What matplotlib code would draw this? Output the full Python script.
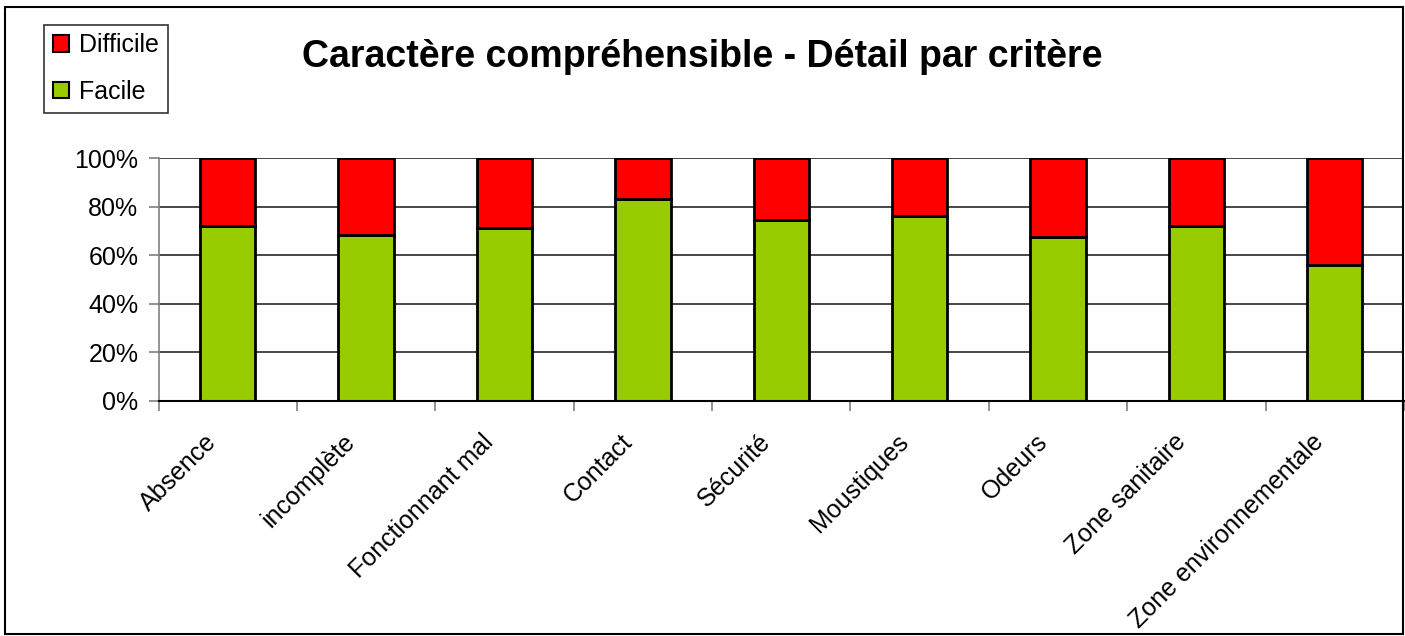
import matplotlib
matplotlib.use("Agg")
import matplotlib.pyplot as plt
from matplotlib.patches import Rectangle, Patch
from matplotlib.transforms import ScaledTranslation

plt.rcParams["font.family"] = ["Liberation Sans", "DejaVu Sans"]

criteres = ["Absence", "incomplète", "Fonctionnant mal", "Contact", "Sécurité",
            "Moustiques", "Odeurs", "Zone sanitaire", "Zone environnementale"]
facile = [72.2, 68.5, 71.4, 83.2, 74.5, 76.4, 67.6, 72.2, 55.9]
difficile = [27.8, 31.5, 28.6, 16.8, 25.5, 23.6, 32.4, 27.8, 44.1]
yticks = [0, 20, 40, 60, 80, 100]
ytick_labels = ["0%", "20%", "40%", "60%", "80%", "100%"]

W, H = 1405, 636
fig = plt.figure(figsize=(W / 100, H / 100), dpi=100)
ax = fig.add_axes([158.5 / W, 1 - 401 / H, (1404 - 158.5) / W, (401 - 158.3) / H])

x = list(range(len(criteres)))
ax.bar(x, facile, width=0.4, color="#99CC00", edgecolor="black", linewidth=2, zorder=3)
ax.bar(x, difficile, width=0.4, bottom=facile, color="#FF0000", edgecolor="black",
       linewidth=2, zorder=3)

ax.set_xlim(-0.5, len(criteres) - 0.5)
ax.set_ylim(0, 100)
ax.set_yticks(yticks)
ax.set_yticklabels(ytick_labels, fontsize=18)
ax.yaxis.grid(True, color="#383838", linewidth=1.3, zorder=0)
ax.tick_params(axis="y", length=7, width=1.2, color="#808080", pad=7.5)

# ticks between categories, labels at centres
ax.set_xticks([i - 0.5 for i in range(len(criteres) + 1)])
ax.set_xticklabels([])
ax.tick_params(axis="x", which="major", length=7, width=1.2, color="#808080")

lab_tr = ax.get_xaxis_transform() + ScaledTranslation(-23 / 100, -29 / 100,
                                                       fig.dpi_scale_trans)
for xi, nom in zip(x, criteres):
    ax.text(xi, 0, nom, transform=lab_tr, fontsize=18, rotation=45, ha="right",
            va="top", rotation_mode="anchor")

for s in ["top", "right"]:
    ax.spines[s].set_visible(False)
ax.spines["left"].set_color("#808080")
ax.spines["left"].set_linewidth(1.2)
ax.spines["bottom"].set_color("black")
ax.spines["bottom"].set_linewidth(1.5)
ax.spines["bottom"].set_zorder(4)

fig.text(0.5, 1 - 66.7 / H, "Caractère compréhensible - Détail par critère",
         fontsize=27, fontweight="bold", ha="center", va="baseline")

handles = [Patch(facecolor="#FF0000", edgecolor="black", linewidth=1.5),
           Patch(facecolor="#99CC00", edgecolor="black", linewidth=1.5)]
leg = fig.legend(handles, ["Difficile", "Facile"], loc="upper left",
                 bbox_to_anchor=(44.3 / W, 1 - 24.5 / H), fontsize=18,
                 frameon=True, fancybox=False, shadow=False, borderpad=0.35,
                 handlelength=0.64, handleheight=0.64, handletextpad=0.4,
                 labelspacing=0.9, borderaxespad=0)
leg.get_frame().set_edgecolor("black")
leg.get_frame().set_linewidth(1.2)

fig.patches.append(Rectangle((4.5 / W, 1 - 633.5 / H), (1403 - 4.5) / W,
                             (633.5 - 6.5) / H, transform=fig.transFigure,
                             fill=False, edgecolor="black", linewidth=1.5))

fig.savefig("out.png", dpi=100)
